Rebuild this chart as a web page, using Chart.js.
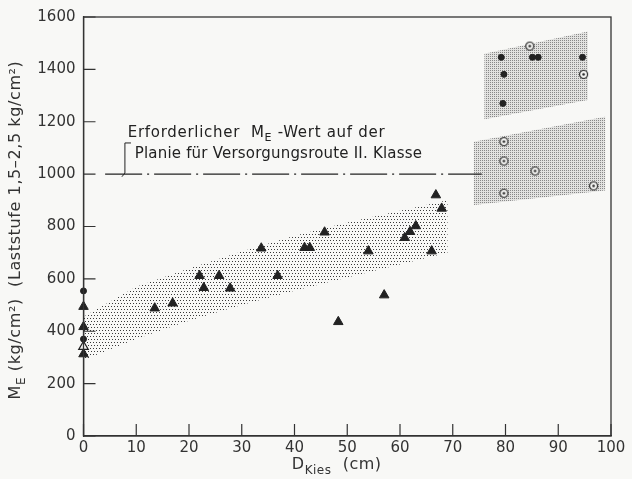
<!DOCTYPE html>
<html>
<head>
<meta charset="utf-8">
<script src="https://cdn.jsdelivr.net/npm/chart.js@4.4.1/dist/chart.umd.min.js"></script>
<style>
  html, body { margin: 0; padding: 0; background: #f8f8f6; }
  canvas { display: block; }
</style>
</head>
<body>
<canvas id="chart" width="632" height="479"></canvas>
<script>
// D_Kies (cm) / M_E (kg/cm2)
const triangles = [
  [0, 494], [0, 417], [0, 313],
  [13.5, 488], [16.9, 507], [22.0, 612], [25.7, 612], [22.8, 566], [27.8, 564],
  [33.7, 717], [36.8, 612], [41.9, 719], [42.9, 719], [45.7, 778], [48.3, 436],
  [54.0, 706], [57.0, 538], [60.9, 757], [61.9, 780], [63.0, 802], [66.0, 706],
  [66.8, 920], [67.9, 869]
];
const openTriangles = [[0, 341]];
const dots = [
  [0, 554], [0, 370],
  [79.2, 1446], [85.1, 1446], [86.2, 1446], [94.6, 1446], [79.7, 1381], [79.5, 1270]
];
const ringDots = [
  [84.6, 1489], [94.8, 1381],
  [79.7, 1124], [79.7, 1050], [85.6, 1012], [79.7, 927], [96.7, 955]
];

// stippled regions (outlines)
const bandLow = [
  [0, 455], [10, 570], [20, 640], [30, 705], [40, 765], [50, 815], [60, 860], [69, 900],
  [69, 700], [60, 655], [50, 605], [40, 555], [30, 500], [20, 440], [10, 370], [0, 290]
];
const bandHighTop = [[76, 1210], [76, 1460], [95.6, 1545], [95.6, 1283]];
const bandHighBottom = [[74, 882], [74, 1124], [98.9, 1219], [98.9, 937]];

// required value line
const requiredValue = 1000;
const requiredFrom = 4.1;
const requiredTo = 75.5;

const pts = a => a.map(([x, y]) => ({ x, y }));

function stipple(step, dot, bg, stagger) {
  const c = document.createElement('canvas');
  c.width = c.height = step * 2;
  const g = c.getContext('2d');
  if (bg) { g.fillStyle = bg; g.fillRect(0, 0, c.width, c.height); }
  g.fillStyle = dot;
  g.fillRect(0, 0, 1, 1);
  g.fillRect(step, 0, 1, 1);
  g.fillRect(stagger ? Math.floor(step / 2) : 0, step, 1, 1);
  g.fillRect(stagger ? Math.floor(step * 1.5) : step, step, 1, 1);
  return g.createPattern(c, 'repeat');
}

function ringMarker() {
  const c = document.createElement('canvas');
  c.width = c.height = 11;
  const g = c.getContext('2d');
  g.fillStyle = '#f8f8f6';
  g.strokeStyle = '#222';
  g.lineWidth = 1.2;
  g.beginPath(); g.arc(5.5, 5.5, 4, 0, Math.PI * 2); g.fill(); g.stroke();
  g.fillStyle = '#222';
  g.beginPath(); g.arc(5.5, 5.5, 1.3, 0, Math.PI * 2); g.fill();
  return c;
}

Chart.defaults.font.family = 'DejaVu Sans';
Chart.defaults.color = '#333';

function richText(ctx, parts, x, y, size, spacing) {
  let cx = x;
  ctx.letterSpacing = (spacing || 0) + 'px';
  parts.forEach(p => {
    ctx.font = (p.sub ? Math.round(size * 0.75) : size) + 'px "DejaVu Sans"';
    ctx.fillText(p.t, cx, p.sub ? y + size * 0.3 : y);
    cx += ctx.measureText(p.t).width;
  });
  ctx.letterSpacing = '0px';
  return cx - x;
}
function richWidth(ctx, parts, size, spacing) {
  let w = 0;
  ctx.letterSpacing = (spacing || 0) + 'px';
  parts.forEach(p => {
    ctx.font = (p.sub ? Math.round(size * 0.75) : size) + 'px "DejaVu Sans"';
    w += ctx.measureText(p.t).width;
  });
  ctx.letterSpacing = '0px';
  return w;
}

const decor = {
  id: 'decor',
  afterDraw(chart) {
    const { ctx, chartArea: a } = chart;
    const X = chart.scales.x, Y = chart.scales.y;
    ctx.save();
    ctx.strokeStyle = '#333';
    ctx.lineWidth = 1.3;
    ctx.strokeRect(a.left, a.top, a.right - a.left, a.bottom - a.top);

    // inward ticks
    ctx.lineWidth = 1.2;
    ctx.beginPath();
    X.ticks.forEach(t => {
      const px = X.getPixelForValue(t.value);
      ctx.moveTo(px, a.bottom); ctx.lineTo(px, a.bottom - 12);
    });
    Y.ticks.forEach(t => {
      const py = Y.getPixelForValue(t.value);
      ctx.moveTo(a.left, py); ctx.lineTo(a.left + 12, py);
    });
    ctx.stroke();

    // annotation
    ctx.fillStyle = '#222';
    ctx.textBaseline = 'alphabetic';
    richText(ctx, [{ t: 'Erforderlicher  M' }, { t: 'E', sub: true }, { t: ' -Wert auf der' }],
      X.getPixelForValue(8.4), Y.getPixelForValue(1142), 15, 0.7);
    richText(ctx, [{ t: 'Planie für Versorgungsroute II. Klasse' }],
      X.getPixelForValue(9.7), Y.getPixelForValue(1061), 15, 0.2);
    ctx.lineWidth = 1;
    ctx.strokeStyle = '#222';
    const bx = X.getPixelForValue(7.85);
    ctx.beginPath();
    ctx.moveTo(X.getPixelForValue(9.0), Y.getPixelForValue(1119));
    ctx.lineTo(bx, Y.getPixelForValue(1119));
    ctx.lineTo(bx, Y.getPixelForValue(1004));
    ctx.lineTo(bx - 3, Y.getPixelForValue(990));
    ctx.stroke();

    // axis titles
    ctx.fillStyle = '#333';
    const xParts = [{ t: 'D' }, { t: 'Kies', sub: true }, { t: '  (cm)' }];
    const xw = richWidth(ctx, xParts, 16, 0.5);
    richText(ctx, xParts, X.getPixelForValue(48) - xw / 2, 469, 16, 0.5);

    const yParts = [{ t: 'M' }, { t: 'E', sub: true }, { t: ' (kg/cm²)  (Laststufe 1,5–2,5 kg/cm²)' }];
    const yw = richWidth(ctx, yParts, 16, 0.6);
    ctx.translate(20, 230);
    ctx.rotate(-Math.PI / 2);
    richText(ctx, yParts, -yw / 2, 0, 16, 0.6);
    ctx.restore();
  }
};

new Chart(document.getElementById('chart'), {
  type: 'scatter',
  data: {
    datasets: [
      { data: pts(triangles), pointStyle: 'triangle', pointRadius: 5.5, backgroundColor: '#222',
        borderColor: '#222', borderWidth: 1, clip: false, order: 0 },
      { data: pts(openTriangles), pointStyle: 'triangle', pointRadius: 5.5, backgroundColor: '#f8f8f6',
        borderColor: '#222', borderWidth: 1.2, clip: false, order: 0 },
      { data: pts(dots), pointStyle: 'circle', pointRadius: 3, backgroundColor: '#222',
        borderColor: '#222', borderWidth: 1, clip: false, order: 0 },
      { data: pts(ringDots), pointStyle: ringMarker(), clip: false, order: 0 },
      { type: 'line', data: [{ x: requiredFrom, y: requiredValue }, { x: requiredTo, y: requiredValue }],
        borderColor: '#222', borderWidth: 1.3, borderDash: [37, 5, 2, 5], pointRadius: 0, fill: false, order: 1 },
      { type: 'line', data: pts(bandLow), fill: 'shape', backgroundColor: stipple(3, '#3a3a3a', null, true),
        borderColor: 'rgba(0,0,0,0)', pointRadius: 0, order: 5 },
      { type: 'line', data: pts(bandHighTop), fill: 'shape', backgroundColor: stipple(2, '#888', '#e2e2e0', false),
        borderColor: 'rgba(0,0,0,0)', pointRadius: 0, order: 5 },
      { type: 'line', data: pts(bandHighBottom), fill: 'shape', backgroundColor: stipple(2, '#888', '#e2e2e0', false),
        borderColor: 'rgba(0,0,0,0)', pointRadius: 0, order: 5 }
    ]
  },
  options: {
    responsive: false,
    animation: false,
    devicePixelRatio: 1,
    layout: { padding: { top: 17, right: 21, left: 0, bottom: 0 } },
    plugins: { legend: { display: false }, tooltip: { enabled: false } },
    scales: {
      x: {
        type: 'linear', min: 0, max: 100,
        ticks: { stepSize: 10, padding: 3, color: '#333', font: { size: 15 }, callback: v => String(v) },
        grid: { display: false, drawTicks: false },
        border: { color: '#333', width: 1.3 },
        afterFit(s) { s.height = 43; }
      },
      y: {
        min: 0, max: 1600,
        ticks: { stepSize: 200, padding: 8, color: '#333', font: { size: 15 }, callback: v => String(v) },
        grid: { display: false, drawTicks: false },
        border: { color: '#333', width: 1.3 },
        afterFit(s) { s.width = 83.5; }
      }
    }
  },
  plugins: [decor]
});
</script>
</body>
</html>
